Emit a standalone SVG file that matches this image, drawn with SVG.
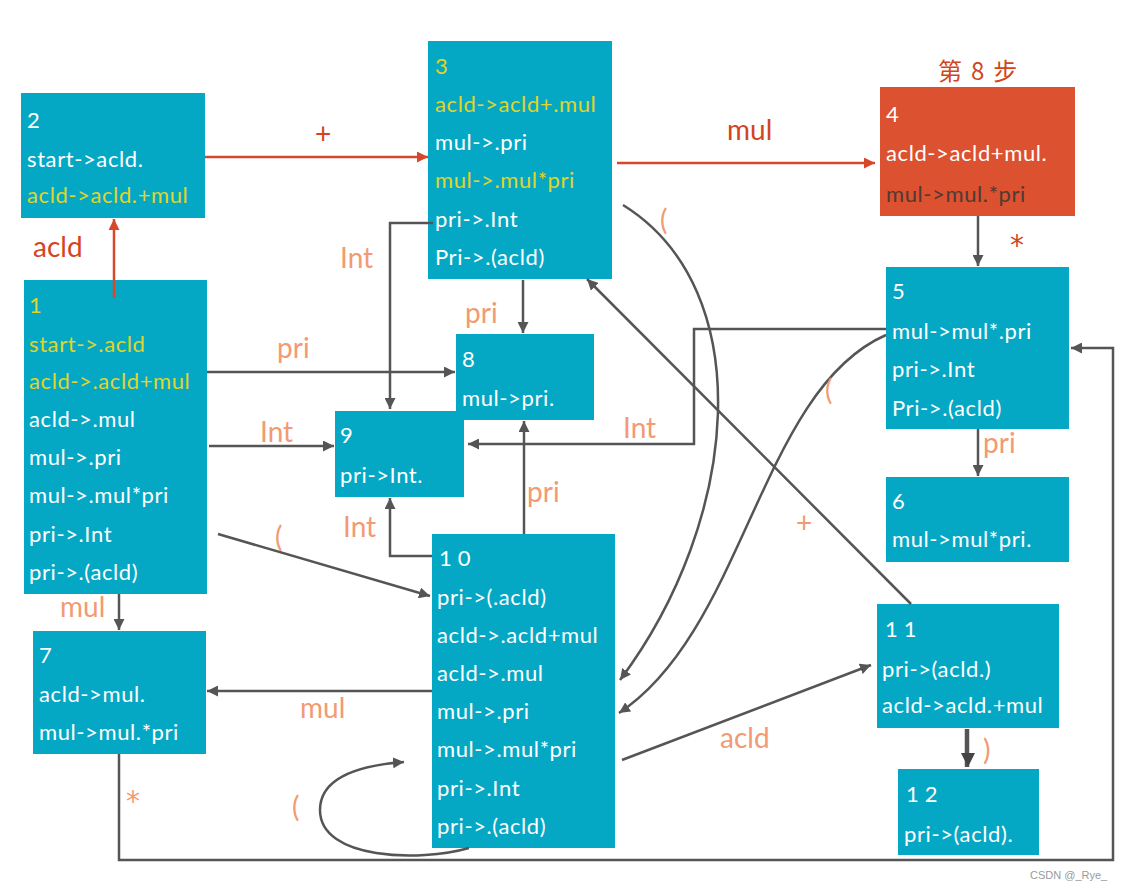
<svg xmlns="http://www.w3.org/2000/svg" width="1142" height="890" viewBox="0 0 1142 890">
<defs>
<style>
.n{fill:#05a8c4}
.o{fill:#dc5130}
.t{font-family:"Lato","Open Sans","Noto Sans",sans-serif;font-size:22px;fill:#ffffff;letter-spacing:0.6px}
.y{fill:#e0d429}
.dk{fill:#503a32}
.num{letter-spacing:6px}
.l{font-family:"Lato","Open Sans",sans-serif;font-size:28px;fill:#f29a74}
.rl{font-family:"Lato","Open Sans",sans-serif;font-size:28px;fill:#d34520}
.ast{font-family:"DejaVu Sans",sans-serif}
.c{fill:none;stroke:#555555;stroke-width:2.5}
.r{fill:none;stroke:#d8472a;stroke-width:2.5}
</style>
<marker id="ag" viewBox="0 0 10 10" refX="10" refY="5" markerWidth="11" markerHeight="11" markerUnits="userSpaceOnUse" orient="auto"><path d="M0,0 L10,5 L0,10 z" fill="#555555"/></marker>
<marker id="ar" viewBox="0 0 10 10" refX="10" refY="5" markerWidth="11" markerHeight="11" markerUnits="userSpaceOnUse" orient="auto"><path d="M0,0 L10,5 L0,10 z" fill="#d8472a"/></marker>
<marker id="agb" viewBox="0 0 10 10" refX="10" refY="5" markerWidth="14" markerHeight="14" markerUnits="userSpaceOnUse" orient="auto"><path d="M0,0 L10,5 L0,10 z" fill="#444444"/></marker>
</defs>
<rect x="0" y="0" width="1142" height="890" fill="#ffffff"/>

<g id="node1">
<rect class="n" x="24" y="280" width="183" height="314"/>
<text class="t y num" x="29" y="313">1</text>
<text class="t y" x="29" y="352">start-&gt;.acld</text>
<text class="t y" x="29" y="389">acld-&gt;.acld+mul</text>
<text class="t" x="29" y="427">acld-&gt;.mul</text>
<text class="t" x="29" y="465">mul-&gt;.pri</text>
<text class="t" x="29" y="503">mul-&gt;.mul*pri</text>
<text class="t" x="29" y="542">pri-&gt;.Int</text>
<text class="t" x="29" y="580">pri-&gt;.(acld)</text>
</g>

<g id="node2">
<rect class="n" x="21" y="93" width="184" height="125"/>
<text class="t" x="27" y="128">2</text>
<text class="t" x="27" y="167">start-&gt;acld.</text>
<text class="t y" x="27" y="203">acld-&gt;acld.+mul</text>
</g>

<g id="node3">
<rect class="n" x="428" y="41" width="184" height="238"/>
<text class="t y" x="435" y="74">3</text>
<text class="t y" x="435" y="112">acld-&gt;acld+.mul</text>
<text class="t" x="435" y="150">mul-&gt;.pri</text>
<text class="t y" x="435" y="188">mul-&gt;.mul*pri</text>
<text class="t" x="435" y="227">pri-&gt;.Int</text>
<text class="t" x="435" y="265">Pri-&gt;.(acld)</text>
</g>

<g id="node4">
<text x="938" y="80" font-family="'Noto Sans CJK SC','Noto Sans',sans-serif" font-size="24" fill="#d34520" letter-spacing="9">第8步</text>
<rect class="o" x="880" y="87" width="195" height="129"/>
<text class="t" x="886" y="122">4</text>
<text class="t" x="886" y="161">acld-&gt;acld+mul.</text>
<text class="t dk" x="886" y="202">mul-&gt;mul.*pri</text>
</g>

<g id="node5">
<rect class="n" x="886" y="267" width="183" height="162"/>
<text class="t" x="892" y="299">5</text>
<text class="t" x="892" y="339">mul-&gt;mul*.pri</text>
<text class="t" x="892" y="377">pri-&gt;.Int</text>
<text class="t" x="892" y="416">Pri-&gt;.(acld)</text>
</g>

<g id="node6">
<rect class="n" x="886" y="477" width="183" height="85"/>
<text class="t" x="892" y="509">6</text>
<text class="t" x="892" y="547">mul-&gt;mul*pri.</text>
</g>

<g id="node7">
<rect class="n" x="33" y="631" width="173" height="123"/>
<text class="t" x="39" y="663">7</text>
<text class="t" x="39" y="702">acld-&gt;mul.</text>
<text class="t" x="39" y="740">mul-&gt;mul.*pri</text>
</g>

<g id="node8">
<rect class="n" x="456" y="334" width="138" height="86"/>
<text class="t" x="462" y="367">8</text>
<text class="t" x="462" y="406">mul-&gt;pri.</text>
</g>

<g id="node9">
<rect class="n" x="335" y="411" width="129" height="86"/>
<text class="t" x="340" y="443">9</text>
<text class="t" x="340" y="483">pri-&gt;Int.</text>
</g>

<g id="node10">
<rect class="n" x="432" y="534" width="183" height="314"/>
<text class="t num" x="439" y="566">10</text>
<text class="t" x="437" y="605">pri-&gt;(.acld)</text>
<text class="t" x="437" y="643">acld-&gt;.acld+mul</text>
<text class="t" x="437" y="681">acld-&gt;.mul</text>
<text class="t" x="437" y="719">mul-&gt;.pri</text>
<text class="t" x="437" y="757">mul-&gt;.mul*pri</text>
<text class="t" x="437" y="796">pri-&gt;.Int</text>
<text class="t" x="437" y="834">pri-&gt;.(acld)</text>
</g>

<g id="node11">
<rect class="n" x="877" y="604" width="182" height="124"/>
<text class="t num" x="885" y="637">11</text>
<text class="t" x="882" y="677">pri-&gt;(acld.)</text>
<text class="t" x="882" y="713">acld-&gt;acld.+mul</text>
</g>

<g id="node12">
<rect class="n" x="898" y="769" width="141" height="86"/>
<text class="t num" x="906" y="802">12</text>
<text class="t" x="904" y="842">pri-&gt;(acld).</text>
</g>

<g id="connectors">
<path class="r" d="M114,298 V219" marker-end="url(#ar)"/>
<path class="r" d="M205,157 H428" marker-end="url(#ar)"/>
<path class="r" d="M617,163 H875" marker-end="url(#ar)"/>
<path class="c" d="M978,216 V266" marker-end="url(#ag)"/>
<path class="c" d="M978,429 V476" marker-end="url(#ag)"/>
<path class="c" d="M433,223 H390 V409" marker-end="url(#ag)"/>
<path class="c" d="M523,280 V333" marker-end="url(#ag)"/>
<path class="c" d="M207,372 H455" marker-end="url(#ag)"/>
<path class="c" d="M209,446 H334" marker-end="url(#ag)"/>
<path class="c" d="M218,534 L430,596" marker-end="url(#ag)"/>
<path class="c" d="M432,556 H390 V498" marker-end="url(#ag)"/>
<path class="c" d="M524,534 V421" marker-end="url(#ag)"/>
<path class="c" d="M886,329 H694 V444 H468" marker-end="url(#ag)"/>
<path class="c" d="M623,205 C760,290 740,520 620,680" marker-end="url(#ag)"/>
<path class="c" d="M886,335 C760,390 745,630 619,713" marker-end="url(#ag)"/>
<path class="c" d="M911,604 L587,279" marker-end="url(#ag)"/>
<path class="c" d="M622,760 L871,665" marker-end="url(#ag)"/>
<path class="c" d="M966,729 V767" stroke-width="1.5"/>
<path class="c" d="M968,729 V767" marker-end="url(#agb)" stroke-width="1.8"/>
<path class="c" d="M432,691 H207" marker-end="url(#ag)"/>
<path class="c" d="M119,594 V630" marker-end="url(#ag)"/>
<path class="c" d="M119,754 V860 H1113 V348 H1071" marker-end="url(#ag)"/>
<path class="c" d="M469,848 C420,862 320,860 320,810 C320,775 365,765 404,762" marker-end="url(#ag)"/>

<text class="rl" x="33" y="257">acld</text>
<text class="rl" x="315" y="144" font-size="26">+</text>
<text class="rl" x="727" y="140">mul</text>
<text class="rl ast" x="1010" y="255" font-size="34">*</text>

<text class="l" x="277" y="358">pri</text>
<text class="l" x="260" y="442">Int</text>
<text class="l" x="275" y="547">(</text>
<text class="l" x="343" y="537">Int</text>
<text class="l" x="340" y="268">Int</text>
<text class="l" x="465" y="323">pri</text>
<text class="l" x="623" y="438">Int</text>
<text class="l" x="527" y="502">pri</text>
<text class="l" x="796" y="533" font-size="24">+</text>
<text class="l" x="660" y="230">(</text>
<text class="l" x="825" y="400">(</text>
<text class="l" x="983" y="453">pri</text>
<text class="l" x="60" y="617">mul</text>
<text class="l" x="300" y="718">mul</text>
<text class="l ast" x="126" y="811" font-size="28">*</text>
<text class="l" x="292" y="817">(</text>
<text class="l" x="720" y="748">acld</text>
<text class="l" x="983" y="760">)</text>
</g>

<text x="1030" y="879" font-family="'Liberation Sans',Arial,sans-serif" font-size="11" fill="#9a9a9a">CSDN @_Rye_</text>
</svg>
